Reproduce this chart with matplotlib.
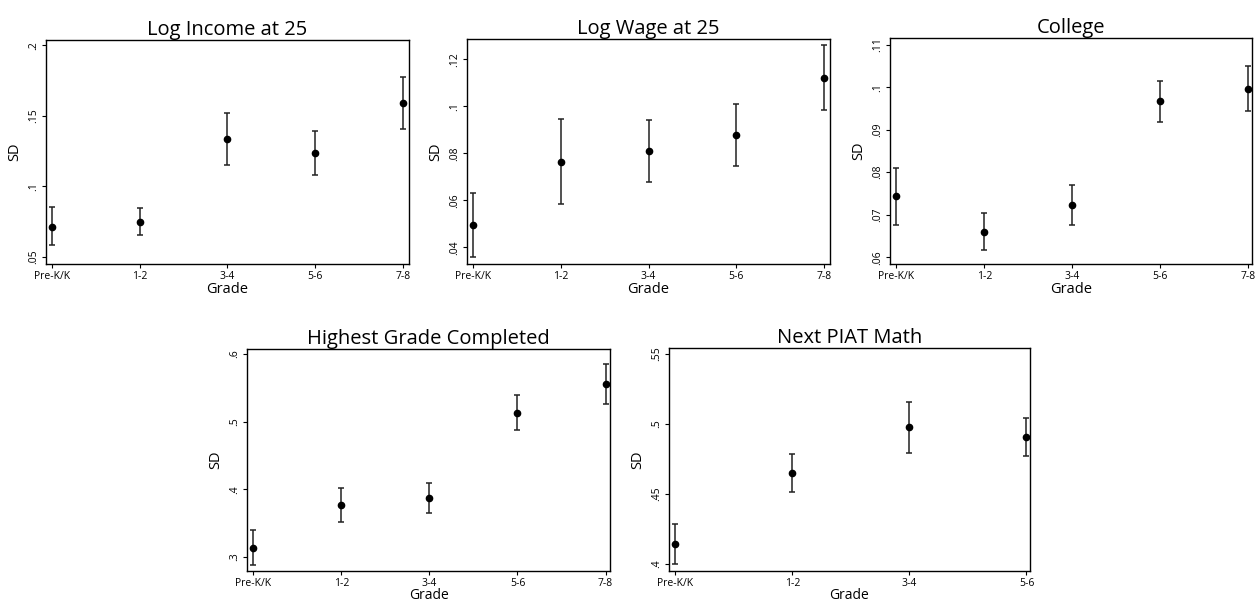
import numpy as np
import matplotlib.pyplot as plt

# Grade groups
grades5 = ["Pre-K/K", "1-2", "3-4", "5-6", "7-8"]
grades4 = ["Pre-K/K", "1-2", "3-4", "5-6"]

# Point estimates and CI bounds
inc_sd = [0.0714, 0.0750, 0.1333, 0.1236, 0.1588]
inc_hi = [0.0852, 0.0847, 0.1520, 0.1392, 0.1776]
inc_lo = [0.0583, 0.0654, 0.1151, 0.1080, 0.1404]

wage_sd = [0.0494, 0.0765, 0.0809, 0.0879, 0.1122]
wage_hi = [0.0631, 0.0948, 0.0942, 0.1011, 0.1261]
wage_lo = [0.0357, 0.0586, 0.0677, 0.0748, 0.0984]

coll_sd = [0.0743, 0.0660, 0.0722, 0.0967, 0.0996]
coll_hi = [0.0811, 0.0705, 0.0769, 0.1014, 0.1049]
coll_lo = [0.0675, 0.0617, 0.0675, 0.0919, 0.0944]

hgc_sd = [0.3137, 0.3768, 0.3866, 0.5134, 0.5550]
hgc_hi = [0.3401, 0.4013, 0.4087, 0.5389, 0.5849]
hgc_lo = [0.2878, 0.3524, 0.3646, 0.4884, 0.5256]

piat_sd = [0.4142, 0.4651, 0.4976, 0.4906]
piat_hi = [0.4285, 0.4785, 0.5156, 0.5042]
piat_lo = [0.3998, 0.4517, 0.4795, 0.4774]

plt.rcParams['font.family'] = ['Open Sans', 'DejaVu Sans']

W, H = 1258, 602
fig = plt.figure(figsize=(W / 100, H / 100), dpi=100)


def add_ax(left, top, right, bottom):
    return fig.add_axes([left / W, 1 - bottom / H, (right - left) / W, (bottom - top) / H])


def panel(ax, title, cats, sd, lo, hi, ticks, ticklabels, ylim, xlim, xlab_pad=0, xlab_size=10.5):
    x = np.arange(len(cats))
    sd = np.array(sd)
    err = [sd - np.array(lo), np.array(hi) - sd]
    ax.errorbar(x, sd, yerr=err, fmt='o', color='black', ecolor='#222222',
                markersize=4.5, elinewidth=1.1, capsize=2.5, capthick=1.1)
    ax.set_xticks(x)
    ax.set_xticklabels(cats, fontsize=7.5)
    ax.set_yticks(ticks)
    ax.set_yticklabels(ticklabels, fontsize=7.5, rotation=90, va='center')
    ax.set_ylim(*ylim)
    ax.set_xlim(*xlim)
    ax.set_title(title, fontsize=14.5, pad=3)
    ax.set_xlabel("Grade", fontsize=xlab_size, labelpad=xlab_pad)
    ax.set_ylabel("SD", fontsize=10.5, labelpad=4)
    ax.tick_params(length=3, width=0.8, pad=2)
    for s in ax.spines.values():
        s.set_linewidth(1.0)


ax1 = add_ax(46, 40, 409, 264)
panel(ax1, "Log Income at 25", grades5, inc_sd, inc_lo, inc_hi,
      [0.05, 0.1, 0.15, 0.2], [".05", ".1", ".15", ".2"], (0.045, 0.2038), (-0.07, 4.07))

ax2 = add_ax(467, 39, 830, 264)
panel(ax2, "Log Wage at 25", grades5, wage_sd, wage_lo, wage_hi,
      [0.04, 0.06, 0.08, 0.1, 0.12], [".04", ".06", ".08", ".1", ".12"], (0.0329, 0.1287), (-0.07, 4.07))

ax3 = add_ax(890, 38, 1252, 264)
panel(ax3, "College", grades5, coll_sd, coll_lo, coll_hi,
      [0.06, 0.07, 0.08, 0.09, 0.1, 0.11], [".06", ".07", ".08", ".09", ".1", ".11"],
      (0.0584, 0.1116), (-0.07, 4.04))

ax4 = add_ax(247, 349, 610, 571)
panel(ax4, "Highest Grade Completed", grades5, hgc_sd, hgc_lo, hgc_hi,
      [0.3, 0.4, 0.5, 0.6], [".3", ".4", ".5", ".6"], (0.2794, 0.6074), (-0.07, 4.05),
      xlab_pad=-0.5, xlab_size=10)

ax5 = add_ax(669, 348, 1030, 571)
panel(ax5, "Next PIAT Math", grades4, piat_sd, piat_lo, piat_hi,
      [0.4, 0.45, 0.5, 0.55], [".4", ".45", ".5", ".55"], (0.395, 0.5542), (-0.055, 3.03),
      xlab_pad=-0.5, xlab_size=10)

fig.savefig("out.png", dpi=100)
